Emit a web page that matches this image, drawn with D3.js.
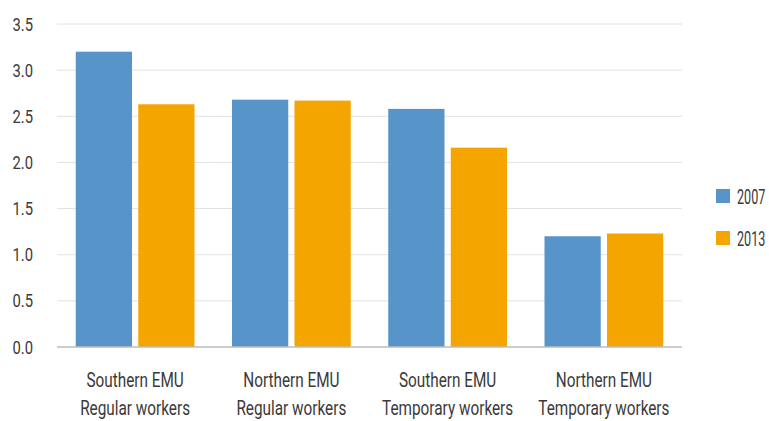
<!DOCTYPE html>
<html>
<head>
<meta charset="utf-8">
<script src="https://cdn.jsdelivr.net/npm/d3@7"></script>
<style>
	body { margin: 0; background: #fff; }
	svg text { font-family: "Roboto", "Noto Sans", sans-serif; fill: #3a3a3a; }
</style>
</head>
<body>
<div id="chartDiv"></div>
<script>
var categories = [
	["Southern EMU", "Regular workers"],
	["Northern EMU", "Regular workers"],
	["Southern EMU", "Temporary workers"],
	["Northern EMU", "Temporary workers"]
];
var seriesNames = ["2007", "2013"];
var values2007 = [3.20, 2.68, 2.58, 1.20];
var values2013 = [2.63, 2.67, 2.16, 1.23];
var yTicks = [0, 0.5, 1, 1.5, 2, 2.5, 3, 3.5];
var colors = ["#5694ca", "#f5a500"];

var width = 769, height = 421;
var margin = {left: 57, right: 87, top: 24, bottom: 74};

var svg = d3.select("#chartDiv").append("svg")
	.attr("width", width)
	.attr("height", height);

var x0 = d3.scaleBand()
	.domain(d3.range(categories.length))
	.range([margin.left, width - margin.right])
	.paddingInner(0.24)
	.paddingOuter(0.12);

var x1 = d3.scaleBand()
	.domain(seriesNames)
	.range([0, x0.bandwidth()])
	.paddingInner(0.1);

var y = d3.scaleLinear()
	.domain([0, 3.5])
	.range([height - margin.bottom, margin.top]);

// no condensed font installed, so squeeze the text horizontally
function narrowText(sel, sx) {
	sel.attr("transform", function() {
		var d = d3.select(this);
		return "translate(" + d.attr("data-x") + "," + d.attr("data-y") + ") scale(" + sx + ",1)";
	});
}

// gridlines
svg.append("g")
	.selectAll("line")
	.data(yTicks.filter(function(d) { return d > 0; }))
	.enter().append("line")
	.attr("x1", margin.left)
	.attr("x2", width - margin.right)
	.attr("y1", function(d) { return y(d); })
	.attr("y2", function(d) { return y(d); })
	.attr("stroke", "#e2e2e2")
	.attr("stroke-width", 1);

// y tick labels
svg.append("g")
	.selectAll("text")
	.data(yTicks)
	.enter().append("text")
	.attr("data-x", 33)
	.attr("data-y", function(d) { return y(d) + 6.5; })
	.attr("text-anchor", "end")
	.style("font-size", "18.5px")
	.text(function(d) { return d3.format(".1f")(d); })
	.call(narrowText, 0.8);

// bars
var groups = svg.append("g")
	.selectAll("g")
	.data(categories.map(function(c, i) { return [values2007[i], values2013[i]]; }))
	.enter().append("g")
	.attr("transform", function(d, i) { return "translate(" + x0(i) + ",0)"; });

groups.selectAll("rect")
	.data(function(d) { return d; })
	.enter().append("rect")
	.attr("x", function(d, j) { return x1(seriesNames[j]); })
	.attr("y", function(d) { return y(d); })
	.attr("width", x1.bandwidth())
	.attr("height", function(d) { return y(0) - y(d); })
	.attr("fill", function(d, j) { return colors[j]; });

// x axis line
svg.append("line")
	.attr("x1", margin.left)
	.attr("x2", width - margin.right)
	.attr("y1", y(0))
	.attr("y2", y(0))
	.attr("stroke", "#bdbdbd")
	.attr("stroke-width", 1.5);

// category labels, two lines each
[0, 1].forEach(function(line) {
	svg.append("g")
		.selectAll("text")
		.data(categories)
		.enter().append("text")
		.attr("data-x", function(d, i) { return x0(i) + x0.bandwidth() / 2; })
		.attr("data-y", 387 + line * 28)
		.attr("text-anchor", "middle")
		.style("font-size", "21px")
		.text(function(d) { return d[line]; })
		.call(narrowText, 0.73);
});

// legend
var legend = svg.append("g")
	.selectAll("g")
	.data(seriesNames)
	.enter().append("g")
	.attr("transform", function(d, i) { return "translate(716," + (189 + i * 42) + ")"; });
legend.append("rect")
	.attr("width", 14)
	.attr("height", 14)
	.attr("fill", function(d, i) { return colors[i]; });
legend.append("text")
	.attr("data-x", 21)
	.attr("data-y", 15)
	.style("font-size", "21px")
	.text(function(d) { return d; })
	.call(narrowText, 0.6);
</script>
</body>
</html>
